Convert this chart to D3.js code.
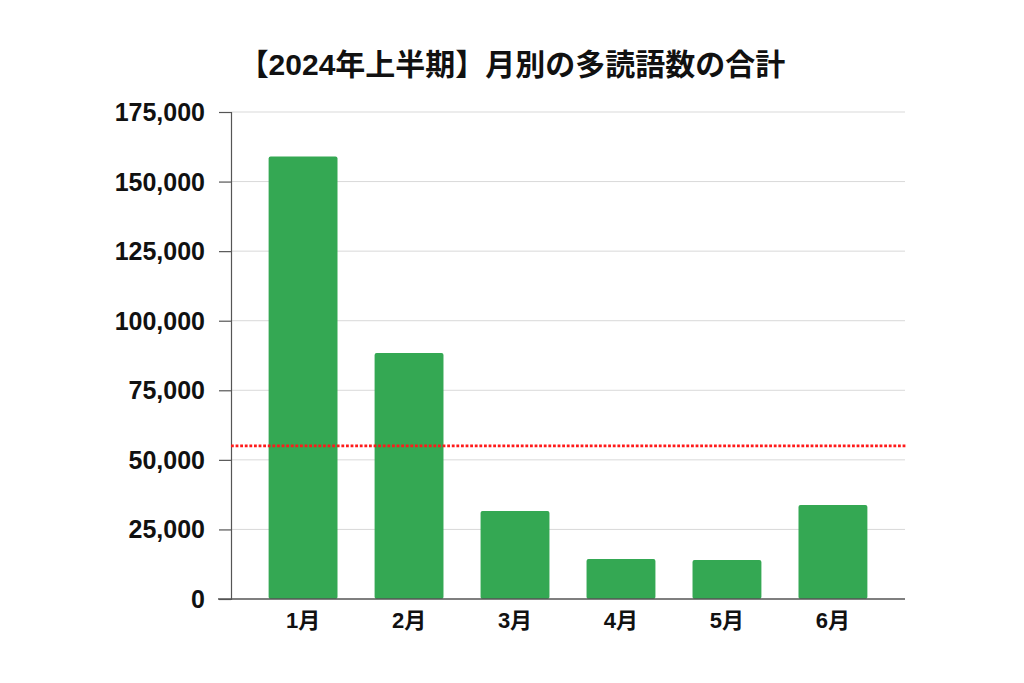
<!DOCTYPE html>
<html>
<head>
<meta charset="utf-8">
<script src="https://cdn.jsdelivr.net/npm/d3@7/dist/d3.min.js"></script>
<style>
html,body{margin:0;padding:0;background:#fff;}
text{font-family:"Liberation Sans","Noto Sans CJK JP",Arial,sans-serif;font-weight:bold;fill:#111;}
</style>
</head>
<body>
<svg id="chart" width="1024" height="683"></svg>
<script>
const title = "【2024年上半期】月別の多読語数の合計";
const months = ["1月","2月","3月","4月","5月","6月"];
const words = [159000, 88400, 31600, 14400, 14000, 33800];
const targetLine = 55000;
const yTicks = [0, 25000, 50000, 75000, 100000, 125000, 150000, 175000];

(function(){
const svg = d3.select("#chart");
const mLeft = 231, mRight = 905, mTop = 112, mBottom = 599;

const x = d3.scaleBand().domain(months).range([mLeft, mRight]).paddingInner(0.35).paddingOuter(0.355);
const y = d3.scaleLinear().domain([0, 175000]).range([mBottom, mTop]);

svg.append("rect").attr("width",1024).attr("height",683).attr("fill","#fff");

// gridlines
svg.append("g").selectAll("line").data(yTicks.filter(d=>d>0)).join("line")
  .attr("x1", mLeft).attr("x2", mRight)
  .attr("y1", d=>y(d)).attr("y2", d=>y(d))
  .attr("stroke", "#d9d9d9").attr("stroke-width", 1);

// y axis
const yAxis = d3.axisLeft(y).tickValues(yTicks).tickSize(12).tickPadding(14)
  .tickFormat(d3.format(","));
const gy = svg.append("g").attr("transform", `translate(${mLeft},0)`).call(yAxis);
gy.select(".domain").attr("stroke","#555").attr("stroke-width",1.2);
gy.selectAll(".tick line").attr("stroke","#555").attr("stroke-width",1.2);
gy.selectAll(".tick text").style("font-size","25px").attr("dy","0.34em")
  .style("font-family","'Liberation Sans',Arial,sans-serif").attr("fill","#111");

// bars
svg.append("g").selectAll("rect").data(words).join("rect")
  .attr("x", (d,i)=>x(months[i]))
  .attr("width", x.bandwidth())
  .attr("y", d=>y(d))
  .attr("height", d=>mBottom - y(d))
  .attr("rx", 2).attr("ry", 2)
  .attr("fill", "#34a853");

// x axis
const xAxis = d3.axisBottom(x).tickSize(0).tickPadding(13);
const gx = svg.append("g").attr("transform", `translate(0,${mBottom})`).call(xAxis);
gx.select(".domain").remove();
gx.selectAll(".tick text").style("font-size","22px").attr("fill","#111");
svg.append("line").attr("x1", mLeft-13).attr("x2", mRight).attr("y1", mBottom).attr("y2", mBottom)
  .attr("stroke","#555").attr("stroke-width",1.6);

// target dotted line
svg.append("line").attr("x1", mLeft).attr("x2", mRight+1)
  .attr("y1", y(targetLine)).attr("y2", y(targetLine))
  .attr("stroke","#ff1a1a").attr("stroke-width",2.8).attr("stroke-dasharray","2.8,1.8");

// title
svg.append("text").attr("x", 512).attr("y", 75).attr("text-anchor","middle")
  .style("font-size","30px").text(title);
})();
</script>
</body>
</html>
